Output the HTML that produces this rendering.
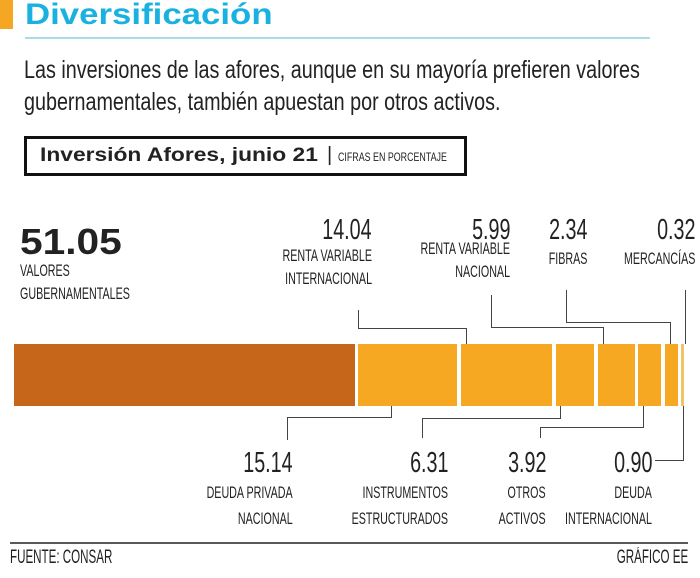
<!DOCTYPE html>
<html><head><meta charset="utf-8"><style>
body{margin:0;width:700px;height:578px;background:#fff;position:relative;overflow:hidden;font-family:"Liberation Sans",sans-serif;color:#222}
.a{position:absolute;white-space:nowrap;line-height:1}
.r{text-align:right;transform-origin:right top}
.lo{transform-origin:left top}
.n{font-size:29px;transform:scaleX(0.68)}
.l{font-size:17px;line-height:23px;transform:scaleX(0.63)}
.seg{position:absolute;top:344px;height:62px;background:#f7a823}
</style></head><body>
<div class="a" style="left:0;top:0;width:13px;height:29px;background:#f5a623"></div>
<div class="a lo" style="left:25px;top:0px;font-weight:bold;font-size:30px;color:#19b2e0;transform:scaleX(1.16)">Diversificación</div>
<div class="a" style="left:25px;top:37px;width:625px;height:2px;background:#a9dde6"></div>
<div class="a lo" style="left:24px;top:54px;font-size:25px;line-height:32px;color:#222;transform:scaleX(0.79)">Las inversiones de las afores, aunque en su mayoría prefieren valores<br>gubernamentales, también apuestan por otros activos.</div>
<div class="a" style="left:24px;top:136px;width:437px;height:34px;border:3px solid #111"></div>
<div class="a lo" style="left:40px;top:146px;font-weight:bold;font-size:19px;transform:scaleX(1.2)">Inversión Afores, junio 21</div>
<div class="a" style="left:327px;top:145px;font-size:20px">|</div>
<div class="a lo" style="left:338px;top:151px;font-size:12px;transform:scaleX(0.74)">CIFRAS EN PORCENTAJE</div>

<div class="a lo" style="left:20px;top:224px;font-weight:bold;font-size:36px;transform:scaleX(1.13)">51.05</div>
<div class="a l lo" style="left:20px;top:259px">VALORES<br>GUBERNAMENTALES</div>

<div class="a r n" style="right:328px;top:216px">14.04</div>
<div class="a r l" style="right:328px;top:244px">RENTA VARIABLE<br>INTERNACIONAL</div>
<div class="a r n" style="right:190px;top:216px">5.99</div>
<div class="a r l" style="right:190px;top:237px">RENTA VARIABLE<br>NACIONAL</div>
<div class="a r n" style="right:113px;top:216px">2.34</div>
<div class="a r l" style="right:113px;top:247px">FIBRAS</div>
<div class="a r n" style="right:5px;top:216px">0.32</div>
<div class="a r l" style="right:5px;top:247px">MERCANCÍAS</div>

<div class="a" style="left:14px;top:344px;width:341px;height:62px;background:#c6661b"></div>
<div class="seg" style="left:358px;width:99px"></div>
<div class="seg" style="left:461px;width:91px"></div>
<div class="seg" style="left:556px;width:38px"></div>
<div class="seg" style="left:598px;width:37px"></div>
<div class="seg" style="left:638px;width:23px"></div>
<div class="seg" style="left:665px;width:13px"></div>
<div class="seg" style="left:681px;width:3px;background:#f2c46a"></div>

<svg class="a" style="left:0;top:0" width="700" height="578">
<g fill="none" stroke="#444" stroke-width="1">
<polyline points="358.5,310 358.5,328.5 466.5,328.5 466.5,344"/>
<polyline points="491.5,295 491.5,327.5 603.5,327.5 603.5,344"/>
<polyline points="566.5,290 566.5,322.5 670.5,322.5 670.5,344"/>
<polyline points="685.5,290 685.5,344"/>
<polyline points="391.5,406 391.5,417.5 287.5,417.5 287.5,440"/>
<polyline points="560.5,406 560.5,418.5 422.5,418.5 422.5,438"/>
<polyline points="643.5,406 643.5,427.5 540.5,427.5 540.5,438"/>
<polyline points="683.5,406 683.5,460.5 655,460.5"/>
</g>
<line x1="10" y1="543" x2="688" y2="543" stroke="#222" stroke-width="1.5"/>
</svg>

<div class="a r n" style="right:407px;top:449px">15.14</div>
<div class="a r l" style="right:407px;top:480px;line-height:26px">DEUDA PRIVADA<br>NACIONAL</div>
<div class="a r n" style="right:252px;top:449px">6.31</div>
<div class="a r l" style="right:252px;top:480px;line-height:26px">INSTRUMENTOS<br>ESTRUCTURADOS</div>
<div class="a r n" style="right:154px;top:449px">3.92</div>
<div class="a r l" style="right:154px;top:480px;line-height:26px">OTROS<br>ACTIVOS</div>
<div class="a r n" style="right:48px;top:449px">0.90</div>
<div class="a r l" style="right:48px;top:480px;line-height:26px">DEUDA<br>INTERNACIONAL</div>

<div class="a lo" style="left:10px;top:548px;font-size:19px;transform:scaleX(0.61)">FUENTE: CONSAR</div>
<div class="a r" style="right:12px;top:548px;font-size:19px;transform:scaleX(0.61)">GRÁFICO EE</div>
</body></html>
